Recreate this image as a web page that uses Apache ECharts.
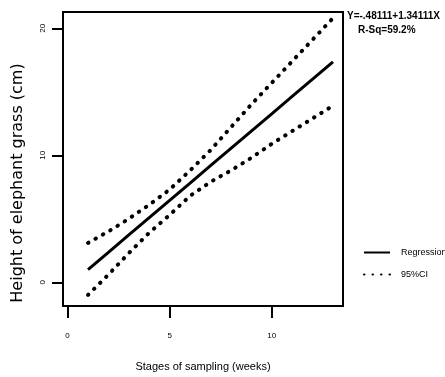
<!DOCTYPE html>
<html><head><meta charset="utf-8">
<script src="https://cdn.jsdelivr.net/npm/echarts@6/dist/echarts.min.js"></script>
<style>html,body{margin:0;padding:0;background:#fff}#c{width:445px;height:377px}</style>
</head><body><div id="c"></div>
<script>
var weeks = [1,2,3,4,5,6,7,8,9,10,11,12,13];
var regression = [1.0,2.36,3.73,5.09,6.45,7.81,9.18,10.54,11.9,13.26,14.63,15.99,17.35];
var ciUpper = [3.1,4.0,5.0,6.1,7.3,8.8,10.4,12.2,14.0,15.7,17.4,19.1,20.8];
var ciLower = [-1.0,0.6,2.3,3.9,5.3,6.8,7.9,8.8,9.8,10.9,11.9,12.9,13.9];
var xTicks = [0,5,10];
var yTicks = [0,10,20];
var equation = 'Y=-.48111+1.34111X';
var rsq = 'R-Sq=59.2%';

function pairs(v){ return weeks.map(function(w,i){ return [w, v[i]]; }); }
var narrow = '"Liberation Sans Narrow", "Liberation Sans", Arial, sans-serif';
var dotted = {color:'#000', width:4, type:[0.5,8], cap:'round'};

var chart = echarts.init(document.getElementById('c'), null, {renderer:'canvas'});
chart.setOption({
  animation:false,
  backgroundColor:'#fff',
  grid:{left:63, top:12, width:280, height:298, show:true, borderColor:'#000', borderWidth:2, backgroundColor:'transparent'},
  xAxis:{type:'value', min:-0.225, max:13.49,
    name:'Stages of sampling (weeks)', nameLocation:'middle', nameGap:55,
    nameTextStyle:{fontFamily:narrow, fontSize:11, color:'#000'},
    axisLine:{show:true, onZero:false, lineStyle:{color:'#000', width:2}},
    axisTick:{show:true, length:12, lineStyle:{color:'#000', width:2}, customValues:xTicks},
    axisLabel:{fontSize:8, color:'#000', margin:26, fontFamily:narrow, customValues:xTicks},
    splitLine:{show:false}},
  yAxis:{type:'value', min:-1.87, max:21.28,
    axisLine:{show:true, onZero:false, lineStyle:{color:'#000', width:2}},
    axisTick:{show:true, length:11, lineStyle:{color:'#000', width:2}, customValues:yTicks},
    axisLabel:{fontSize:8, color:'#000', margin:16, rotate:90, fontFamily:narrow, customValues:yTicks},
    splitLine:{show:false}},
  legend:{orient:'vertical', left:358, top:243, itemWidth:26, itemHeight:10, itemGap:13,
    data:['Regression','95%CI'],
    itemStyle:{opacity:0},
    textStyle:{fontFamily:narrow, fontSize:9, color:'#000', padding:[0,0,0,6]}},
  graphic:[
    {type:'text', left:347, top:11, style:{text:equation, fontFamily:narrow, fontSize:10, fontWeight:'bold', fill:'#000'}},
    {type:'text', left:358, top:25, style:{text:rsq, fontFamily:narrow, fontSize:10, fontWeight:'bold', fill:'#000'}},
    {type:'text', x:18, y:183, rotation:Math.PI/2, style:{text:'Height of elephant grass (cm)', fontFamily:'"DejaVu Sans", sans-serif', fontSize:16, fill:'#000', align:'center', verticalAlign:'middle'}}
  ],
  series:[
    {name:'Regression', type:'line', data:pairs(regression), symbol:'none', lineStyle:{color:'#000', width:3}, itemStyle:{color:'#000'}},
    {name:'95%CI', type:'line', data:pairs(ciUpper), symbol:'none', lineStyle:dotted, itemStyle:{color:'#000'}},
    {name:'95%CI', type:'line', data:pairs(ciLower), symbol:'none', lineStyle:dotted, itemStyle:{color:'#000'}}
  ]
});
</script></body></html>
